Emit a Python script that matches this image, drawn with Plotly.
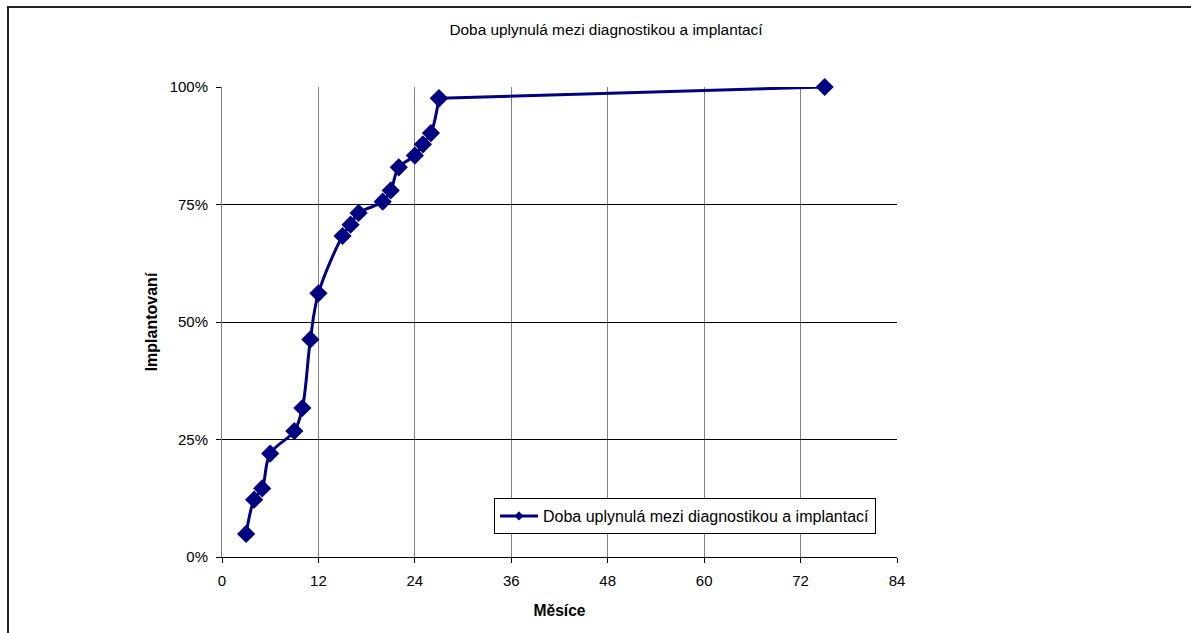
import plotly.graph_objects as go

# Months from diagnosis to implantation and cumulative share of implanted patients
months = [3, 4, 5, 6, 9, 10, 11, 12, 15, 16, 17, 20, 21, 22, 24, 25, 26, 27, 75]
share = [0.049, 0.122, 0.146, 0.220, 0.268, 0.317, 0.463, 0.561, 0.683, 0.707,
         0.732, 0.756, 0.780, 0.829, 0.854, 0.878, 0.902, 0.976, 1.000]

x_ticks = [0, 12, 24, 36, 48, 60, 72, 84]
y_ticks = [0, 0.25, 0.5, 0.75, 1.0]

series_name = "Doba uplynulá mezi diagnostikou a implantací"
navy = "#000080"
font = "Liberation Sans, Arial, sans-serif"

W, H = 1191, 633
L, R, T, B = 222, 294, 87, 76
pw, ph = W - L - R, H - T - B

fig = go.Figure()
# smoothed curve over the dense part of the series
fig.add_trace(go.Scatter(
    x=months[:-1], y=share[:-1], name=series_name, showlegend=False,
    mode="lines+markers", cliponaxis=False,
    line=dict(color=navy, width=3, shape="spline", smoothing=1),
    marker=dict(symbol="diamond", size=14, color=navy),
))
# long tail to the last observation
fig.add_trace(go.Scatter(
    x=months[-2:], y=share[-2:], name=series_name, showlegend=False,
    mode="lines+markers", cliponaxis=False,
    line=dict(color=navy, width=3),
    marker=dict(symbol="diamond", size=14, color=navy),
))
# legend entry with a small symbol
fig.add_trace(go.Scatter(
    x=[None], y=[None], name=series_name, showlegend=True,
    mode="lines+markers",
    line=dict(color=navy, width=3),
    marker=dict(symbol="diamond", size=7, color=navy),
))

# outer chart frame (runs past the right and bottom edges)
fig.add_shape(type="rect", xref="paper", yref="paper",
              x0=(8 - L) / pw, x1=(1210 - L) / pw,
              y0=(H - B - 645) / ph, y1=(H - B - 7) / ph,
              line=dict(color="#222222", width=2), layer="below")

fig.update_layout(
    width=W, height=H,
    margin=dict(l=L, r=R, t=T, b=B),
    paper_bgcolor="white", plot_bgcolor="white",
    font=dict(family=font, size=15, color="black"),
    title=dict(text=series_name, x=606 / W, xanchor="center",
               y=1 - 30 / H, yanchor="middle",
               font=dict(family=font, size=15.4, color="black")),
    showlegend=True,
    legend=dict(x=(876 - L) / pw, xanchor="right",
                y=(H - B - 534) / ph, yanchor="bottom",
                bordercolor="black", borderwidth=1, bgcolor="white",
                font=dict(family=font, size=16, color="black"),
                itemwidth=38, tracegroupgap=0),
    xaxis=dict(range=[0, 84], tickvals=x_ticks, ticktext=[str(v) for v in x_ticks],
               showgrid=True, gridcolor="#808080", gridwidth=1,
               showline=True, linecolor="black", linewidth=1,
               ticks="outside", ticklen=5, tickcolor="black",
               ticklabelstandoff=5,
               zeroline=False,
               title=dict(text="<b>Měsíce</b>", standoff=17,
                          font=dict(family=font, size=15.6))),
    yaxis=dict(range=[0, 1], tickvals=y_ticks, tickformat=".0%",
               showgrid=True, gridcolor="black", gridwidth=1,
               showline=True, linecolor="#808080", linewidth=1,
               ticks="outside", ticklen=5, tickcolor="black",
               ticklabelstandoff=5,
               zeroline=False,
               title=dict(text="<b>Implantovaní</b>", standoff=8,
                          font=dict(family=font, size=16))),
)

fig.write_html("out.html")
